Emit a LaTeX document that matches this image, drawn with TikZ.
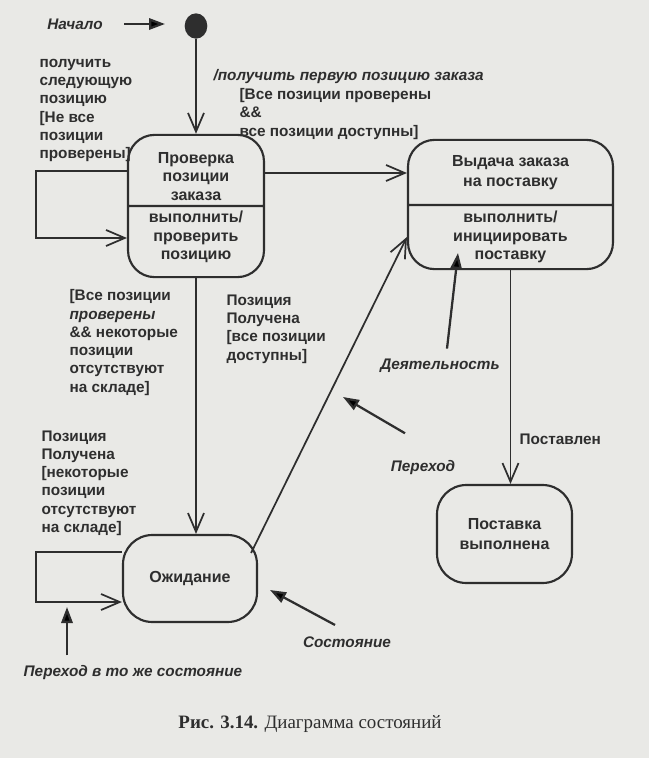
\documentclass[tikz,border=0pt]{standalone}
\usepackage{fontspec}
\setmainfont{Liberation Serif}
\newfontfamily\diagsans{Liberation Sans}
\usetikzlibrary{arrows.meta,positioning,shapes.geometric,shapes.multipart}
\definecolor{ink}{HTML}{2E2E2E}
\definecolor{paper}{HTML}{E9E9E6}
\newcommand{\partbox}[4][0pt]{\parbox[c][#3][c]{#2}{\centering\vspace{#1}#4}}

\begin{document}
\begin{tikzpicture}[x=0.75pt,y=-0.75pt,
      sbox/.style={rectangle split,rectangle split parts=2,draw=ink,line width=1.6pt,
                   rounded corners=20pt,inner xsep=2pt,inner ysep=0pt,text=ink,
                   font=\diagsans\bfseries\fontsize{12}{14}\selectfont},
      rbox/.style={draw=ink,line width=1.6pt,rounded corners=22pt,align=center,
                   text=ink,font=\diagsans\bfseries\fontsize{12}{15.5}\selectfont},
      lbl/.style={align=left,inner sep=1pt,text=ink,
                  font=\diagsans\bfseries\fontsize{11.5}{13.7}\selectfont},
      note/.style={lbl,font=\diagsans\bfseries\itshape\fontsize{11.5}{13.7}\selectfont},
      trans/.style={draw=ink,line width=1.3pt,-{Straight Barb[length=14pt,width=12pt]}},
      ptr/.style={draw=ink,line width=1.7pt,-{Triangle[length=12pt,width=8.5pt]}}]
    \path[use as bounding box,fill=paper] (0,0) rectangle (649,758);

    \node[ellipse,fill=ink,minimum width=17pt,minimum height=19pt,inner sep=0pt]
      (start) at (196,26) {};
    \node[sbox] (check) at (196,206)
      {\partbox[9pt]{98pt}{51.75pt}{Проверка\\позиции\\заказа}%
       \nodepart{two}\partbox[-7pt]{98pt}{51.75pt}{выполнить/\\проверить\\позицию}};
    \node[sbox] (issue) at (510.5,204.5)
      {\partbox{149.75pt}{47.25pt}{Выдача заказа\\[1pt]на поставку}%
       \nodepart{two}\partbox{149.75pt}{46.5pt}{выполнить/\\инициировать\\поставку}};
    \node[rbox,minimum width=100.5pt,minimum height=65.25pt] (wait) at (190,578.5)
      {Ожидание};
    \node[rbox,minimum width=101.25pt,minimum height=73.5pt] (done) at (504.5,534)
      {Поставка\\выполнена};

    \node[lbl,anchor=west] (nextlbl) at (38,110.5) {получить\\следующую\\позицию\\{[}Не все\\позиции\\проверены]};
    \node[note,anchor=west] (firstlbl) at (212,77) {/получить первую позицию заказа};
    \node[lbl,anchor=west] (allok) at (238,114) {{[}Все позиции проверены\\\&\&\\все позиции доступны]};
    \node[lbl,anchor=west] (somemiss) at (68,342.5) {{[}Все позиции\\\textit{проверены}\\\&\& некоторые\\позиции\\отсутствуют\\на складе]};
    \node[lbl,anchor=west] (gotall) at (225,329) {Позиция\\Получена\\{[}все позиции\\доступны]};
    \node[lbl,anchor=west] (gotsome) at (40,483) {Позиция\\Получена\\{[}некоторые\\позиции\\отсутствуют\\на складе]};
    \node[lbl,anchor=west] (shipped) at (518,439) {Поставлен};

    \node[note] (startlbl) at (75,24) {Начало};
    \node[note] (actlbl) at (440,366) {Деятельность};
    \node[note] (translbl) at (423,468) {Переход};
    \node[note] (statelbl) at (347,642) {Состояние};
    \node[note] (selflbl) at (133,673) {Переход в то же состояние};
    \node[text=ink,font=\fontsize{14.2}{16}\selectfont] (caption) at (310,724)
      {\textbf{Рис. 3.14.} Диаграмма состояний};

    \coordinate (starttip) at (165,24);
    \coordinate (acttip) at (458,253);
    \coordinate (transtip) at (343,397);
    \coordinate (statetip) at (270,590);
    \coordinate (selftip) at (67,607);

    \draw[trans] (start) -- (check);
    \draw[trans] ([shift={(0,-33)}]check.east) -- ([shift={(0,-33)}]check.east -| issue.west);
    \draw[trans] ([shift={(0,-35)}]check.west) -- ++(-91,0) |- ([shift={(0,32)}]check.west);
    \draw[trans] (check.south) -- (check.south |- wait.north);
    \draw[trans] ([shift={(0,-26.5)}]wait.west) -- ++(-86,0) |- ([shift={(0,23.5)}]wait.west);
    \draw[trans] ([shift={(-7,-25.5)}]wait.east) -- ([shift={(0,32.5)}]issue.west);
    \draw[trans] (issue.south) -- (issue.south |- done.north);

    \draw[ptr] ([shift={(20,0)}]startlbl.east) -- (starttip);
    \draw[ptr] ([shift={(7,-9)}]actlbl.north) -- (acttip);
    \draw[ptr] ([shift={(-18,-26)}]translbl.north) -- (transtip);
    \draw[ptr] ([shift={(-12,-10)}]statelbl.north) -- (statetip);
    \draw[ptr] ([shift={(-66,-9)}]selflbl.north) -- (selftip);
  \end{tikzpicture}
\end{document}
